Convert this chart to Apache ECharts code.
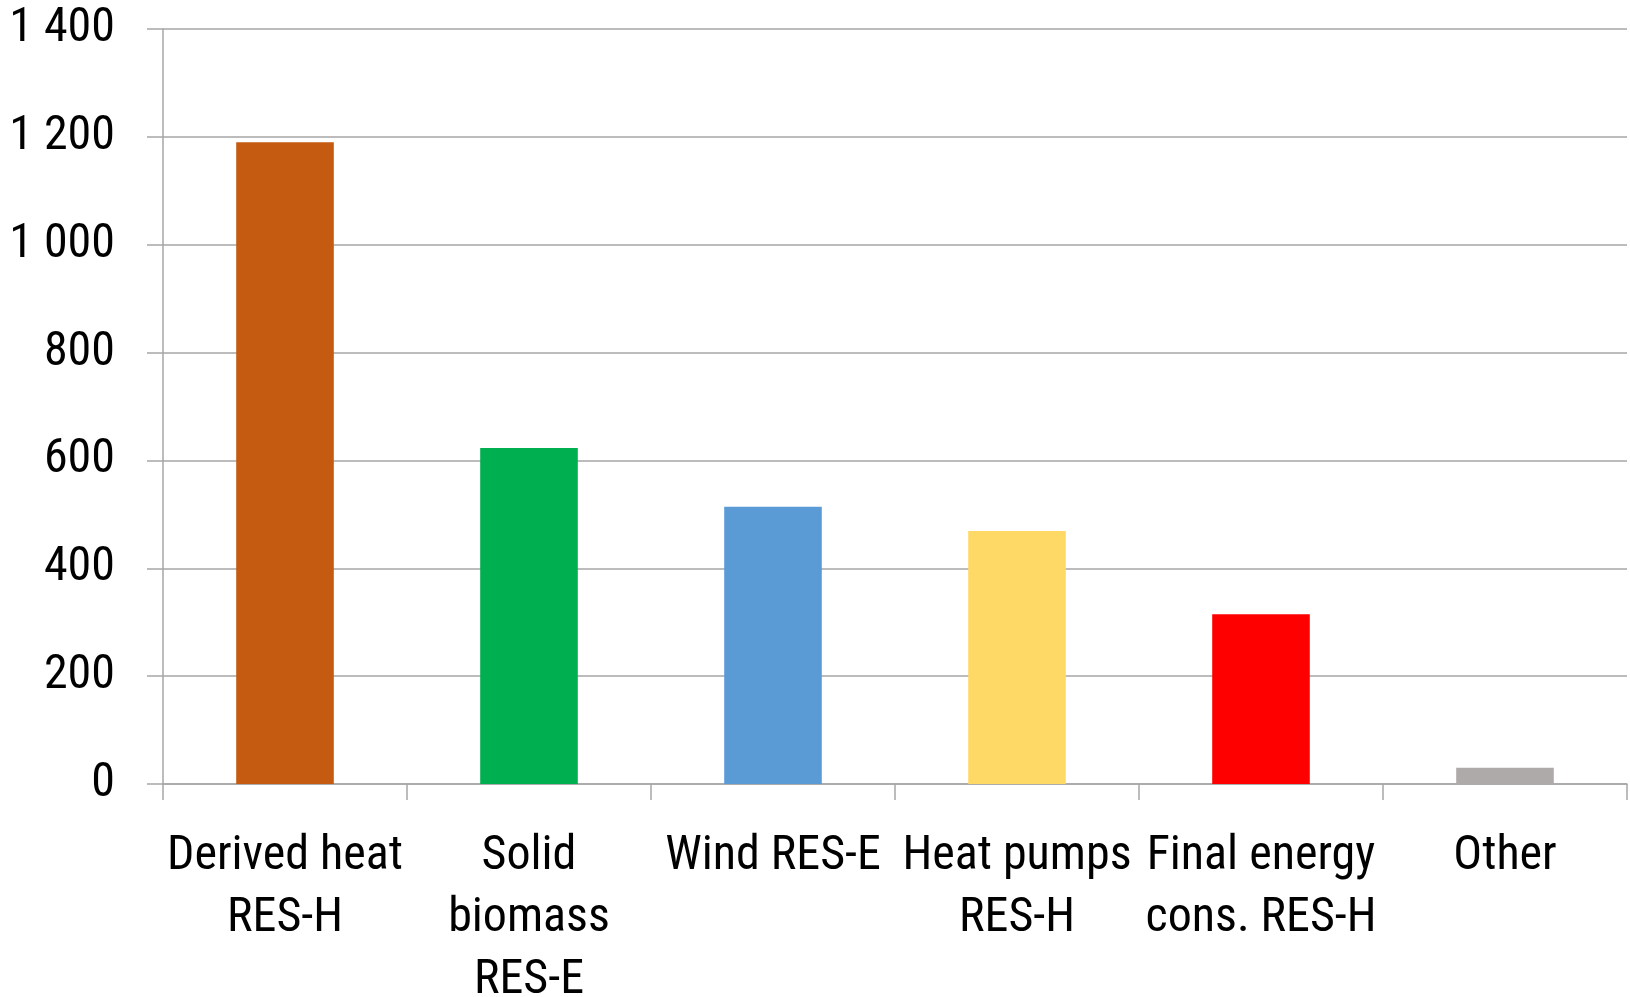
<!DOCTYPE html>
<html>
<head>
<meta charset="utf-8">
<script src="https://cdn.jsdelivr.net/npm/echarts@6/dist/echarts.min.js"></script>
<style>
  html, body { margin: 0; padding: 0; background: #fff; }
  #chart { width: 1630px; height: 997px; }
</style>
</head>
<body>
<div id="chart"></div>
<script>
// chart data
const categories = [
  'Derived heat\nRES-H',
  'Solid\nbiomass\nRES-E',
  'Wind RES-E',
  'Heat pumps\nRES-H',
  'Final energy\ncons. RES-H',
  'Other'
];
const values = [1190, 623, 514, 469, 315, 30];
const barColors = ['#C55A11', '#00B050', '#5B9BD5', '#FFD966', '#FF0000', '#AEAAAA'];
const yTicks = [0, 200, 400, 600, 800, 1000, 1200, 1400];

const FONT = "'Roboto Condensed', 'Liberation Sans Narrow', 'DejaVu Sans Condensed', Roboto, sans-serif";
const axisGray = '#A6A6A6';

const chart = echarts.init(document.getElementById('chart'), null, { renderer: 'canvas' });

const option = {
  backgroundColor: '#ffffff',
  animation: false,
  grid: {
    left: 163,
    right: 3,
    top: 29,
    bottom: 213,
    containLabel: false,
    outerBoundsMode: 'none' // labels run off the bottom in the original
  },
  xAxis: {
    type: 'category',
    data: categories,
    boundaryGap: true,
    axisLine: { show: true, lineStyle: { color: axisGray, width: 1.5 } },
    axisTick: { show: true, alignWithLabel: false, length: 16, lineStyle: { color: axisGray, width: 1.5 } },
    axisLabel: {
      interval: 0,
      margin: 42,
      color: '#000',
      fontFamily: FONT,
      fontSize: 48,
      lineHeight: 62
    }
  },
  yAxis: {
    type: 'value',
    min: yTicks[0],
    max: yTicks[yTicks.length - 1],
    interval: 200,
    axisLine: { show: true, lineStyle: { color: axisGray, width: 1.5 } },
    axisTick: { show: true, length: 16, lineStyle: { color: axisGray, width: 1.5 } },
    splitLine: { show: true, lineStyle: { color: axisGray, width: 1.5 } },
    axisLabel: {
      margin: 48,
      color: '#000',
      fontFamily: FONT,
      fontSize: 48,
      formatter: function (v) {
        // thousands separated with a space
        return String(v).replace(/\B(?=(\d{3})+(?!\d))/g, ' ');
      }
    }
  },
  series: [
    {
      type: 'bar',
      barWidth: '40%',
      data: values.map(function (v, i) {
        return { value: v, itemStyle: { color: barColors[i] } };
      })
    }
  ]
};

chart.setOption(option);
</script>
</body>
</html>
